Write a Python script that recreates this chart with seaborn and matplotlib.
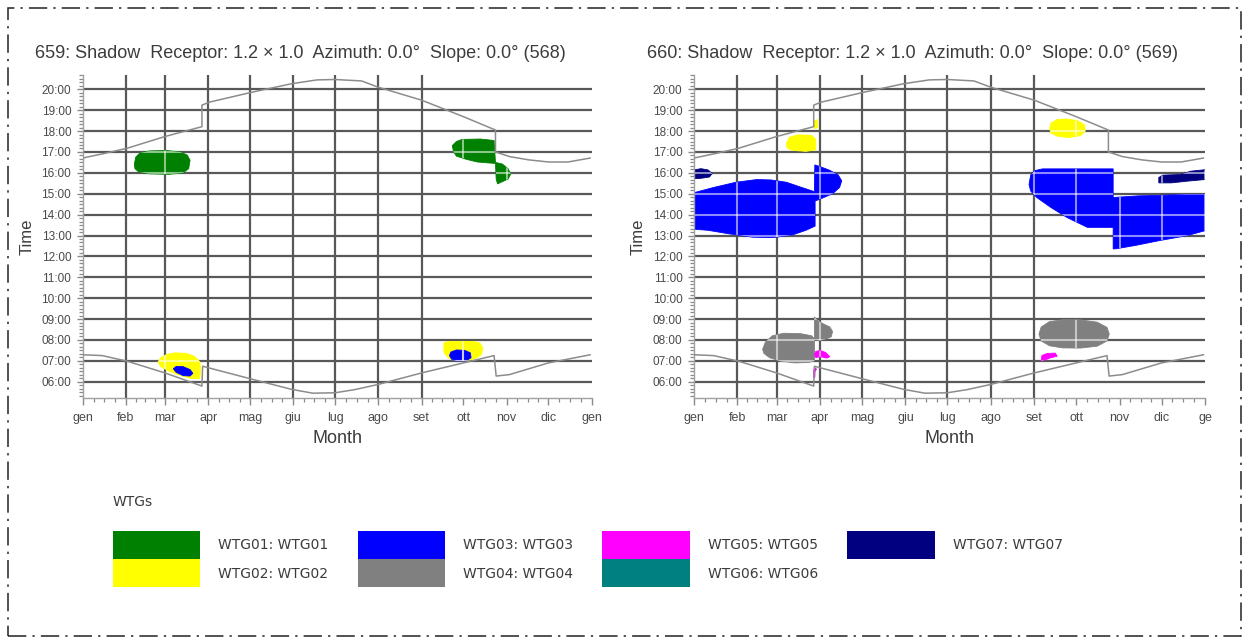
import matplotlib.pyplot as plt
import matplotlib.patches as mpatches
from matplotlib.ticker import FixedLocator, MultipleLocator
import seaborn as sns

sns.set_theme(style="white")
plt.rcParams['font.family'] = ['Liberation Sans', 'DejaVu Sans']

# calendar axis (day of year) and time axis (hour of day)
month_starts = [0, 31, 59, 90, 120, 151, 181, 212, 243, 273, 304, 334, 365]
month_labels = ['gen', 'feb', 'mar', 'apr', 'mag', 'giu', 'lug', 'ago', 'set', 'ott', 'nov', 'dic', 'gen']
month_labels_660 = month_labels[:-1] + ['ge']
hour_ticks = list(range(6, 21))

# sunset / sunrise lines (with summer time jumps)
sunset_day = [0, 15, 32, 59, 85.5, 85.5, 90.5, 122, 150, 168, 181, 200, 212, 243, 273, 296, 296, 306, 320, 334, 348, 364]
sunset_hour = [16.71, 16.92, 17.18, 17.74, 18.21, 19.24, 19.38, 19.87, 20.27, 20.45, 20.47, 20.4, 20.1, 19.48, 18.69, 18.05, 17.0, 16.78, 16.62, 16.52, 16.52, 16.71]
sunrise_day = [0, 14, 32, 59, 85.5, 86, 90.5, 122, 150, 165, 181, 195, 212, 243, 273, 295, 296.5, 306, 334, 364]
sunrise_hour = [7.29, 7.25, 6.98, 6.42, 5.79, 6.74, 6.66, 6.11, 5.63, 5.45, 5.47, 5.62, 5.87, 6.42, 6.9, 7.25, 6.27, 6.34, 6.9, 7.29]

# wind turbines
wtg_names = ['WTG01: WTG01', 'WTG02: WTG02', 'WTG03: WTG03', 'WTG04: WTG04',
             'WTG05: WTG05', 'WTG06: WTG06', 'WTG07: WTG07']
wtg_colors = ['#008000', '#ffff00', '#0000ff', '#808080', '#ff00ff', '#008080', '#000080']

# shadow areas for receptor 659, outlines as (day, hour)
r659_wtg01_spring = [(37, 16.4), (38, 16.75), (41, 16.95), (48, 17.05), (60, 17.07), (70, 17.0), (75, 16.85),
                     (77, 16.6), (76, 16.2), (72, 16.0), (62, 15.93), (48, 15.95), (40, 16.05), (37.5, 16.2)]
r659_wtg01_autumn = [(266, 17.0), (265, 17.3), (268, 17.5), (272, 17.6), (285, 17.62), (295, 17.55), (296, 16.5),
                     (301, 16.42), (305, 16.2), (307, 15.95), (305, 15.7), (300, 15.55), (297.5, 15.47),
                     (296.5, 15.7), (296, 16.45), (290, 16.48), (283, 16.52), (275, 16.65), (268, 16.8)]
r659_wtg02_spring = [(54, 6.95), (56, 7.15), (60, 7.3), (66, 7.38), (74, 7.36), (80, 7.22), (84, 6.95),
                     (84.5, 6.6), (84, 6.15), (78, 6.15), (70, 6.3), (62, 6.5), (56, 6.72)]
r659_wtg03_spring = [(65, 6.62), (67, 6.73), (72, 6.72), (77, 6.58), (79, 6.4), (77, 6.27), (72, 6.29), (67, 6.45)]
r659_wtg02_autumn = [(259, 7.45), (259, 7.85), (262, 7.93), (280, 7.93), (285, 7.85), (287, 7.6), (286, 7.3),
                     (282, 7.12), (275, 7.0), (268, 7.0), (263, 7.1), (260, 7.3)]
r659_wtg03_autumn = [(263, 7.25), (264, 7.42), (268, 7.52), (274, 7.5), (278, 7.38), (278.5, 7.15),
                     (275, 7.0), (268, 6.99), (264.5, 7.08)]

# shadow areas for receptor 660
r660_wtg07_jan = [(0, 15.72), (0, 16.14), (5, 16.2), (10, 16.14), (13, 15.97), (11, 15.8), (5, 15.74)]
r660_wtg03_spring = [(0, 13.3), (0, 15.05), (14, 15.3), (30, 15.55), (45, 15.68), (55, 15.66), (66, 15.55),
                     (77, 15.3), (86, 15.1), (86.3, 16.38), (90, 16.3), (97, 16.12), (103, 15.9), (105.5, 15.62),
                     (104, 15.3), (99, 15.0), (92, 14.8), (86.5, 14.65), (86.5, 13.45), (80, 13.25), (70, 13.02),
                     (56, 12.9), (42, 12.92), (25, 13.08), (10, 13.25)]
r660_wtg02_spring = [(66, 17.4), (68, 17.7), (74, 17.82), (84, 17.8), (87, 17.6), (87, 17.1), (80, 17.03),
                     (70, 17.08), (66.5, 17.2)]
r660_wtg02_apr = [(85.5, 18.2), (86, 18.5), (88, 18.55), (88.5, 18.2), (87, 18.1)]
r660_wtg02_autumn = [(254, 18.1), (255, 18.38), (259, 18.55), (266, 18.58), (274, 18.5), (279, 18.3),
                     (279.5, 18.0), (276, 17.78), (268, 17.69), (260, 17.75), (255, 17.9)]
r660_wtg03_autumn = [(239.3, 15.44), (240.5, 15.9), (243.6, 16.11), (249, 16.19), (299.4, 16.19),
                     (299.4, 14.82), (318, 14.9), (332, 14.92), (352, 14.97), (365, 14.97), (365, 13.23),
                     (352, 12.99), (332, 12.75), (315, 12.52), (301, 12.36), (299.4, 12.36), (299.4, 13.39),
                     (281, 13.39), (266.5, 13.86), (255, 14.34), (245, 14.81), (240.5, 15.13)]
r660_wtg07_dec = [(332, 15.52), (332, 15.78), (335, 15.89), (347, 15.92), (355, 16.08), (365, 16.15),
                  (365, 15.68), (352, 15.6), (341, 15.52)]
r660_wtg04_spring = [(49, 7.55), (51, 7.9), (56, 8.2), (64, 8.32), (76, 8.3), (84, 8.2), (86, 8.05), (86, 7.0),
                     (82, 6.92), (72, 6.9), (62, 6.98), (54, 7.15), (50, 7.35)]
r660_wtg04_apr = [(86, 8.0), (86, 9.1), (88, 8.95), (92, 8.78), (97, 8.62), (99, 8.4), (98, 8.15), (94.6, 8.05),
                  (90, 7.98)]
r660_wtg04_autumn = [(246.4, 8.28), (248, 8.62), (254, 8.88), (263, 8.96), (276, 8.96), (288, 8.85),
                     (295, 8.6), (296.6, 8.28), (295, 7.95), (288, 7.7), (276, 7.61), (263, 7.62), (254, 7.72),
                     (248, 7.95)]
r660_wtg05_spring = [(86, 7.3), (87, 7.45), (90, 7.5), (94, 7.4), (97, 7.2), (95, 7.13), (90, 7.2), (87, 7.15)]
r660_wtg05_apr = [(85.5, 6.2), (85.5, 6.55), (86.5, 6.67), (87.5, 6.6), (86.5, 6.5), (86.3, 6.2)]
r660_wtg05_autumn = [(248, 7.0), (248.5, 7.25), (252, 7.35), (258, 7.37), (259.5, 7.22), (255, 7.15), (251, 7.05)]

areas_659 = [(1, r659_wtg02_spring), (2, r659_wtg03_spring), (1, r659_wtg02_autumn), (2, r659_wtg03_autumn),
             (0, r659_wtg01_spring), (0, r659_wtg01_autumn)]
areas_660 = [(1, r660_wtg02_spring), (1, r660_wtg02_apr), (1, r660_wtg02_autumn), (2, r660_wtg03_spring),
             (2, r660_wtg03_autumn), (6, r660_wtg07_jan), (6, r660_wtg07_dec), (3, r660_wtg04_spring),
             (3, r660_wtg04_apr), (3, r660_wtg04_autumn), (4, r660_wtg05_spring), (4, r660_wtg05_apr),
             (4, r660_wtg05_autumn)]

titles = ['659: Shadow  Receptor: 1.2 \u00d7 1.0  Azimuth: 0.0\u00b0  Slope: 0.0\u00b0 (568)',
          '660: Shadow  Receptor: 1.2 \u00d7 1.0  Azimuth: 0.0\u00b0  Slope: 0.0\u00b0 (569)']

W, H = 1243, 644
fig = plt.figure(figsize=(W / 100, H / 100), dpi=100)

YLIM = (5.234, 20.685)
grid_col = '#585858'
text_col = '#3c3c3c'

def draw_panel(ax, areas, xlabels):
    ax.set_xlim(0, 365)
    ax.set_ylim(*YLIM)
    ax.set_axisbelow(True)
    ax.grid(True, which='major', color=grid_col, lw=1.6)
    ax.xaxis.get_gridlines()[0].set_visible(False)

    for idx, outline in areas:
        poly = mpatches.Polygon(outline, closed=True, facecolor=wtg_colors[idx],
                                edgecolor=wtg_colors[idx], lw=0.6, zorder=1)
        ax.add_patch(poly)
        # grid shows through the shadow areas as light lines
        hl = ax.hlines(hour_ticks, 0, 365, colors='white', alpha=0.55, lw=1.5, zorder=1.2)
        hl.set_clip_path(poly)
        vl = ax.vlines(month_starts[1:], YLIM[0], YLIM[1], colors='white', alpha=0.55, lw=1.5, zorder=1.2)
        vl.set_clip_path(poly)

    sns.lineplot(x=sunset_day, y=sunset_hour, ax=ax, color='#8c8c8c', lw=1.1,
                 sort=False, estimator=None, zorder=3)
    sns.lineplot(x=sunrise_day, y=sunrise_hour, ax=ax, color='#8c8c8c', lw=1.1,
                 sort=False, estimator=None, zorder=3)

    ax.set_xticks(month_starts)
    ax.set_xticklabels(xlabels)
    minor_x = [a + (b - a) * k / 4 for a, b in zip(month_starts[:-1], month_starts[1:]) for k in (1, 2, 3)]
    ax.xaxis.set_minor_locator(FixedLocator(minor_x))
    ax.set_yticks(hour_ticks)
    ax.set_yticklabels([f'{h:02d}:00' for h in hour_ticks])
    ax.yaxis.set_minor_locator(MultipleLocator(1 / 6))

    ax.tick_params(axis='x', which='major', direction='out', length=5.2, width=1, color='#8a8a8a',
                   pad=5.4, labelsize=9, labelcolor='#4a4a4a', bottom=True)
    ax.tick_params(axis='x', which='minor', direction='out', length=3, width=0.9, color='#8a8a8a', bottom=True)
    ax.tick_params(axis='y', which='major', direction='out', length=4.3, width=1, color='#8a8a8a',
                   pad=4, labelsize=8.5, labelcolor='#4a4a4a', left=True)
    ax.tick_params(axis='y', which='minor', direction='out', length=2.8, width=0.9, color='#8a8a8a', left=True)

    for side in ('top', 'right'):
        ax.spines[side].set_visible(False)
    for side in ('left', 'bottom'):
        ax.spines[side].set_color('#a0a0a0')
        ax.spines[side].set_linewidth(1)

    ax.set_xlabel('Month', fontsize=13, color=text_col)
    ax.set_ylabel('Time', fontsize=12, color=text_col)
    ax.xaxis.set_label_coords(0.5, -0.10)
    ax.yaxis.set_label_coords(-0.095, 0.5)


ax1 = fig.add_axes([82.7 / W, 1 - 397.7 / H, 509 / W, 322.7 / H])
ax2 = fig.add_axes([694 / W, 1 - 397.7 / H, 511 / W, 322.7 / H])
draw_panel(ax1, areas_659, month_labels)
draw_panel(ax2, areas_660, month_labels_660)

fig.text(35 / W, 1 - 54 / H, titles[0], fontsize=13, color=text_col, ha='left', va='center')
fig.text(647 / W, 1 - 54 / H, titles[1], fontsize=13, color=text_col, ha='left', va='center')

# legend
fig.text(113 / W, 1 - 502 / H, 'WTGs', fontsize=10, color=text_col, ha='left', va='center',
         family='DejaVu Sans')
handles = [mpatches.Patch(facecolor=c, edgecolor='none', label=n) for n, c in zip(wtg_names, wtg_colors)]
fig.legend(handles=handles, loc='upper left', bbox_to_anchor=(112.7 / W, 1 - 530.7 / H), ncol=4,
           frameon=False, borderpad=0, borderaxespad=0, handlelength=6.28, handleheight=2.725,
           handletextpad=1.32, columnspacing=2.1, labelspacing=0.05,
           prop={'family': 'DejaVu Sans', 'size': 10}, labelcolor=text_col)

# dash-dot page border
fig.patches.append(mpatches.Rectangle((7.5 / W, 1 - 636 / H), (1241 - 7.5) / W, (636 - 7.5) / H,
                                      transform=fig.transFigure, fill=False, edgecolor='#222222',
                                      lw=1.1, linestyle=(0, (12, 4, 1.5, 4))))

fig.savefig('out.png', dpi=100)
